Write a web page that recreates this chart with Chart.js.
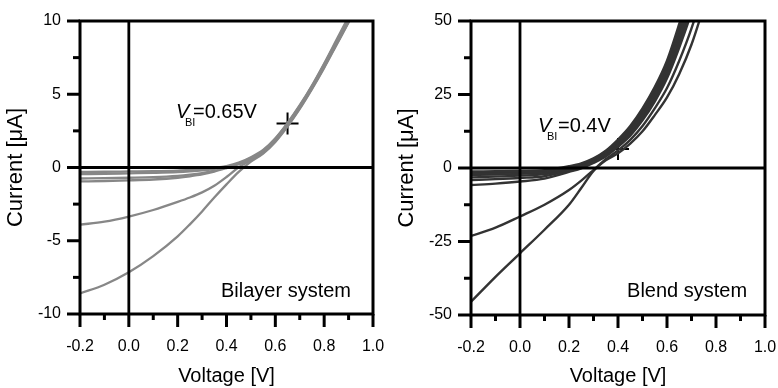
<!DOCTYPE html>
<html>
<head>
<meta charset="utf-8">
<script src="https://cdn.jsdelivr.net/npm/chart.js@4.4.1/dist/chart.umd.min.js"></script>
<style>
  body { margin: 0; background: #fff; }
  #wrap { position: relative; width: 778px; height: 388px; }
  .box { position: absolute; top: 0; width: 389px; height: 388px; }
</style>
</head>
<body>
<div id="wrap">
  <div class="box" style="left:0"><canvas id="bilayer"></canvas></div>
  <div class="box" style="left:389px"><canvas id="blend"></canvas></div>
</div>
<script>
// ---- Bilayer system (left) ----
const bilayerVolt = [-0.2, -0.1, 0, 0.1, 0.2, 0.25, 0.3, 0.35, 0.4, 0.45, 0.5, 0.55, 0.6, 0.65, 0.7, 0.75, 0.8, 0.85, 0.9, 0.95];
const bilayer1 = [-0.30, -0.29, -0.27, -0.25, -0.21, -0.17, -0.12, -0.03, 0.10, 0.33, 0.70, 1.20, 2.00, 3.05, 4.25, 5.60, 7.10, 8.70, 10.3, 12.0];
const bilayer2 = [-0.45, -0.43, -0.40, -0.37, -0.32, -0.27, -0.20, -0.09, 0.06, 0.29, 0.65, 1.15, 1.95, 3.00, 4.20, 5.55, 7.05, 8.60, 10.2, 11.9];
const bilayer3 = [-0.75, -0.73, -0.70, -0.66, -0.57, -0.49, -0.38, -0.22, 0.00, 0.25, 0.60, 1.10, 1.90, 2.95, 4.15, 5.50, 6.95, 8.50, 10.1, 11.8];
const bilayer4 = [-0.95, -0.92, -0.88, -0.82, -0.70, -0.60, -0.47, -0.28, -0.04, 0.22, 0.55, 1.05, 1.85, 2.90, 4.10, 5.45, 6.90, 8.45, 10.0, 11.7];
const bilayer5 = [-3.90, -3.70, -3.35, -2.90, -2.35, -2.05, -1.70, -1.25, -0.65, 0.02, 0.50, 1.00, 1.80, 2.85, 4.05, 5.40, 6.85, 8.40, 9.95, 11.6];
const bilayer6 = [-8.60, -8.00, -7.15, -6.05, -4.70, -3.88, -3.00, -2.05, -1.15, -0.30, 0.40, 0.95, 1.75, 2.80, 4.00, 5.35, 6.80, 8.35, 9.90, 11.5];
const bilayerVbi = [{ x: 0.65, y: 3 }];

// ---- Blend system (right) ----
const blendVolt = [-0.2, -0.1, 0, 0.1, 0.2, 0.25, 0.3, 0.35, 0.4, 0.45, 0.5, 0.55, 0.6, 0.65, 0.7, 0.75, 0.8];
const blend1 = [-1.2, -1.1, -1.0, -0.75, 0.6, 1.6, 3.3, 5.9, 9.7, 14.3, 20.3, 27.5, 36.5, 49, 63, 80, 100];
const blend2 = [-1.8, -1.7, -1.5, -1.2, 0.3, 1.3, 3.0, 5.5, 9.2, 13.7, 19.5, 26.6, 35.3, 47.3, 61, 77.5, 97];
const blend3 = [-2.4, -2.25, -2.0, -1.6, -0.1, 1.0, 2.7, 5.1, 8.7, 13.0, 18.7, 25.6, 34.1, 45.7, 59, 75, 94];
const blend4 = [-3.2, -2.95, -2.6, -2.1, -0.5, 0.6, 2.3, 4.7, 8.2, 12.3, 17.9, 24.6, 32.9, 44.1, 57, 72.5, 91];
const blend5 = [-4.1, -3.8, -3.4, -2.8, -0.9, 0.3, 2.0, 4.3, 7.7, 11.6, 17.0, 23.6, 31.7, 42.5, 55, 70, 88];
const blend6 = [-5.8, -5.3, -4.6, -3.6, -1.3, -0.1, 1.7, 3.9, 7.2, 11.0, 16.2, 22.6, 30.5, 41, 53, 68, 85];
const blend7 = [-23.1, -20.3, -16.5, -12.5, -7.5, -4.3, -0.7, 3.0, 6.0, 9.6, 14.3, 20.3, 27.2, 36.5, 47.5, 61, 78];
const blend8 = [-45.5, -37, -29, -21, -12.5, -6.8, -1.0, 2.6, 5.0, 8.3, 12.5, 18, 24, 32, 42, 55, 70];
const blendVbi = [{ x: 0.4, y: 6.5 }];

// ---- ticks ----
const xTickValues = [-0.2, 0, 0.2, 0.4, 0.6, 0.8, 1.0];
const xTickLabels = ['-0.2', '0.0', '0.2', '0.4', '0.6', '0.8', '1.0'];
const xMinorTicks = [-0.1, 0.1, 0.3, 0.5, 0.7, 0.9];
const bilayerYTicks = [-10, -5, 0, 5, 10];
const bilayerYMinor = [-7.5, -2.5, 2.5, 7.5];
const blendYTicks = [-50, -25, 0, 25, 50];
const blendYMinor = [-37.5, -12.5, 12.5, 37.5];

const FONT = "'Liberation Sans', Arial, sans-serif";

function pts(xs, ys) {
  return xs.map((v, i) => ({ x: v, y: ys[i] }));
}

// axis box, outward ticks, zero lines and text labels
const frame = {
  id: 'frame',
  afterDatasetsDraw(chart, args, o) {
    const { ctx, chartArea: a, scales: { x, y } } = chart;
    ctx.save();
    ctx.strokeStyle = '#000';
    ctx.lineCap = 'butt';
    const seg = (x1, y1, x2, y2) => { ctx.beginPath(); ctx.moveTo(x1, y1); ctx.lineTo(x2, y2); ctx.stroke(); };

    // zero lines
    ctx.lineWidth = 2.8;
    const x0 = x.getPixelForValue(0), y0 = y.getPixelForValue(0);
    seg(x0, a.top, x0, a.bottom);
    seg(a.left, y0, a.right, y0);

    // ticks
    ctx.lineWidth = 3;
    o.xMajor.forEach(v => { const p = x.getPixelForValue(v); seg(p, a.bottom, p, a.bottom + 13); });
    o.xMinor.forEach(v => { const p = x.getPixelForValue(v); seg(p, a.bottom, p, a.bottom + 6); });
    o.yMajor.forEach(v => { const p = y.getPixelForValue(v); seg(a.left - 13, p, a.left, p); });
    o.yMinor.forEach(v => { const p = y.getPixelForValue(v); seg(a.left - 7, p, a.left, p); });

    // box
    ctx.lineWidth = 3;
    ctx.strokeRect(a.left, a.top, a.width, a.height);

    // V_BI label
    ctx.fillStyle = '#000';
    ctx.textBaseline = 'alphabetic';
    ctx.textAlign = 'left';
    const lx = x.getPixelForValue(o.vbiAt[0]), ly = y.getPixelForValue(o.vbiAt[1]);
    ctx.font = 'italic 20px ' + FONT;
    ctx.fillText('V', lx, ly);
    ctx.font = '11px ' + FONT;
    ctx.fillText('BI', lx + 9, ly + 8);
    ctx.font = '20px ' + FONT;
    ctx.fillText(o.vbiText, lx + o.vbiGap, ly);

    // system name
    ctx.textAlign = 'right';
    ctx.font = '20px ' + FONT;
    ctx.fillText(o.name, x.getPixelForValue(o.nameAt[0]), y.getPixelForValue(o.nameAt[1]));
    ctx.restore();
  }
};

function makeChart(id, cfg) {
  const lines = cfg.series.map(s => ({
    type: 'line',
    data: pts(cfg.volt, s),
    borderColor: cfg.color,
    borderWidth: cfg.width,
    pointRadius: 0,
    pointHoverRadius: 0,
    fill: false,
    cubicInterpolationMode: 'monotone'
  }));
  lines.push({
    type: 'scatter',
    data: cfg.vbi,
    pointStyle: 'cross',
    pointRadius: 11,
    pointHoverRadius: 11,
    borderColor: '#000',
    borderWidth: 2,
    showLine: false
  });
  return new Chart(document.getElementById(id), {
    type: 'line',
    data: { datasets: lines },
    plugins: [frame],
    options: {
      responsive: true,
      maintainAspectRatio: false,
      animation: false,
      events: [],
      layout: { autoPadding: false, padding: { left: 0, top: 21, right: cfg.padRight, bottom: 0 } },
      plugins: {
        legend: { display: false },
        tooltip: { enabled: false },
        frame: {
          xMajor: xTickValues, xMinor: xMinorTicks,
          yMajor: cfg.yTicks, yMinor: cfg.yMinor,
          vbiAt: cfg.vbiAt, vbiText: cfg.vbiText, vbiGap: cfg.vbiGap,
          name: cfg.name, nameAt: cfg.nameAt
        }
      },
      scales: {
        x: {
          type: 'linear',
          min: -0.2, max: 1.0,
          afterBuildTicks: s => { s.ticks = xTickValues.map(v => ({ value: v })); },
          afterFit: s => { s.height = cfg.xHeight; },
          grid: { display: true, drawOnChartArea: false, drawTicks: true, tickLength: 23, color: 'rgba(0,0,0,0)', tickColor: 'rgba(0,0,0,0)' },
          border: { display: false },
          ticks: {
            callback: (v, i) => xTickLabels[i],
            font: { family: FONT, size: 16 },
            color: '#000',
            padding: 0,
            maxRotation: 0
          },
          title: {
            display: true,
            text: 'Voltage [V]',
            font: { family: FONT, size: 20 },
            color: '#000',
            padding: { top: 0, bottom: 0 }
          }
        },
        y: {
          type: 'linear',
          min: cfg.yTicks[0], max: cfg.yTicks[cfg.yTicks.length - 1],
          afterBuildTicks: s => { s.ticks = cfg.yTicks.map(v => ({ value: v })); },
          afterFit: s => { s.width = cfg.yWidth; },
          grid: { display: true, drawOnChartArea: false, drawTicks: true, tickLength: 19, color: 'rgba(0,0,0,0)', tickColor: 'rgba(0,0,0,0)' },
          border: { display: false },
          ticks: {
            callback: v => String(v),
            font: { family: FONT, size: 16 },
            color: '#000',
            padding: 0
          },
          title: {
            display: true,
            text: 'Current [\u03bcA]',
            font: { family: FONT, size: 22 },
            color: '#000',
            padding: { top: cfg.titlePad, bottom: 0 }
          }
        }
      }
    }
  });
}

makeChart('bilayer', {
  volt: bilayerVolt,
  series: [bilayer1, bilayer2, bilayer3, bilayer4, bilayer5, bilayer6],
  color: '#878787', width: 2.3,
  vbi: bilayerVbi,
  yTicks: bilayerYTicks, yMinor: bilayerYMinor,
  padRight: 16, xHeight: 74, yWidth: 80, titlePad: 3,
  vbiAt: [0.193, 3.4], vbiText: '=0.65V', vbiGap: 17,
  name: 'Bilayer system', nameAt: [0.91, -8.84]
});

makeChart('blend', {
  volt: blendVolt,
  series: [blend1, blend2, blend3, blend4, blend5, blend6, blend7, blend8],
  color: '#333333', width: 2.4,
  vbi: blendVbi,
  yTicks: blendYTicks, yMinor: blendYMinor,
  padRight: 13, xHeight: 73, yWidth: 82, titlePad: 5,
  vbiAt: [0.0735, 12.2], vbiText: '=0.4V', vbiGap: 20,
  name: 'Blend system', nameAt: [0.927, -43.9]
});
</script>
</body>
</html>
